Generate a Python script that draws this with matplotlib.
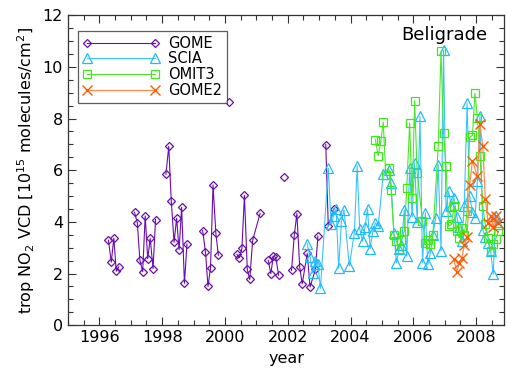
import numpy as np
import matplotlib
matplotlib.use('Agg')
import matplotlib.pyplot as plt

# monthly tropospheric NO2 columns over Belgrade
# nan in the GOME series = gap in the line
nan = np.nan
gome_t = [1996.29, 1996.38, 1996.46, 1996.54, 1996.62, nan,
          1997.12, 1997.21, 1997.29, 1997.38, 1997.46, 1997.54, 1997.62, 1997.71, 1997.79, nan,
          1998.12, 1998.21, 1998.29, 1998.38, 1998.46, 1998.54, 1998.62, 1998.71, 1998.79, nan,
          1999.29, 1999.38, 1999.46, 1999.54, 1999.62, 1999.71, 1999.79, nan,
          2000.14, nan,
          2000.38, 2000.46, 2000.54, 2000.62, 2000.71, 2000.79, 2000.88, 2001.12, nan,
          2001.38, 2001.46, 2001.54, 2001.62, 2001.71, nan,
          2001.88, nan,
          2002.12, 2002.21, 2002.29, 2002.38, 2002.46, 2002.62, 2002.71, 2002.88, 2002.96, nan,
          2003.21, 2003.29, 2003.46]
gome_v = [3.29, 2.44, 3.37, 2.09, 2.26, nan,
          4.37, 3.96, 2.52, 2.07, 4.23, 2.57, 3.36, 2.19, 4.09, nan,
          5.84, 6.92, 4.80, 3.21, 4.14, 2.92, 4.56, 1.62, 3.14, nan,
          3.66, 2.82, 1.50, 2.22, 5.43, 3.55, 2.71, nan,
          8.62, nan,
          2.74, 2.61, 2.97, 5.03, 2.16, 1.77, 3.28, 4.33, nan,
          2.51, 1.99, 2.67, 2.62, 1.93, nan,
          5.72, nan,
          2.12, 3.51, 4.32, 2.25, 1.60, 2.78, 1.48, 2.16, 3.45, nan,
          6.99, 3.83, 4.50]

scia_t = [2002.62, 2002.71, 2002.79, 2002.88, 2002.96, 2003.04, 2003.29, 2003.38, 2003.46,
          2003.54, 2003.62, 2003.71, 2003.79, 2003.96, 2004.12, 2004.21, 2004.29, 2004.38,
          2004.46, 2004.54, 2004.62, 2004.71, 2004.79, 2004.88, 2005.04, 2005.21, 2005.29,
          2005.38, 2005.46, 2005.54, 2005.62, 2005.71, 2005.79, 2005.88, 2005.96, 2006.04,
          2006.12, 2006.21, 2006.29, 2006.38, 2006.46, 2006.54, 2006.62, 2006.71, 2006.79,
          2006.88, 2006.96, 2007.04, 2007.12, 2007.21, 2007.29, 2007.38, 2007.46, 2007.54,
          2007.62, 2007.71, 2007.79, 2007.88, 2007.96, 2008.04, 2008.12, 2008.21, 2008.29,
          2008.38, 2008.46, 2008.54, 2008.62, 2008.71]
scia_v = [3.15, 2.65, 2.03, 2.48, 2.35, 1.43, 6.07, 3.90, 4.24,
          4.50, 2.20, 4.03, 4.47, 2.29, 3.58, 6.17, 3.73, 3.25,
          3.80, 4.50, 2.96, 3.64, 3.96, 3.83, 5.86, 6.02, 5.50,
          3.58, 2.42, 2.93, 3.10, 4.45, 2.67, 6.08, 4.20, 6.27,
          4.00, 8.08, 2.42, 4.35, 2.35, 2.80, 3.50, 4.15, 6.21,
          2.87, 10.65, 4.41, 5.18, 4.60, 4.93, 4.20, 3.80, 3.25,
          4.60, 8.59, 5.00, 4.40, 4.15, 5.60, 8.08, 3.70, 3.40,
          3.20, 2.87, 1.97, 4.22, 3.90]

omi_t = [2004.79, 2004.88, 2004.96, 2005.04, 2005.12, 2005.21, 2005.29, 2005.38, 2005.46,
         2005.54, 2005.62, 2005.71, 2005.79, 2005.88, 2005.96, 2006.04, 2006.12, 2006.29,
         2006.38, 2006.46, 2006.54, 2006.62, 2006.79, 2006.88, 2006.96, 2007.04, 2007.12,
         2007.21, 2007.29, 2007.38, 2007.46, 2007.54, 2007.62, 2007.71, 2007.79, 2007.88,
         2007.96, 2008.04, 2008.12, 2008.21, 2008.29, 2008.38, 2008.46, 2008.54, 2008.62,
         2008.71]
omi_v = [7.18, 6.56, 7.11, 7.86, 5.80, 6.08, 5.25, 3.51, 3.25,
         2.93, 3.30, 3.64, 5.31, 7.82, 4.93, 8.69, 5.89, 4.03,
         3.19, 3.30, 3.16, 3.51, 6.92, 10.62, 7.43, 6.17, 3.83,
         3.90, 4.60, 3.64, 3.38, 3.77, 3.50, 4.41, 7.27, 7.35,
         8.98, 8.01, 6.56, 4.60, 3.90, 3.38, 2.87, 3.13, 3.34,
         3.64]

gome2_t = [2007.29, 2007.38, 2007.46, 2007.54, 2007.62, 2007.71, 2007.79, 2007.88,
           2008.04, 2008.12, 2008.21, 2008.29, 2008.38, 2008.46, 2008.54, 2008.62, 2008.71]
gome2_v = [2.55, 2.06, 2.42, 2.60, 3.09, 3.42, 5.41, 6.37,
           5.76, 7.78, 6.92, 4.90, 3.96, 4.24, 3.79, 4.22, 3.94]

plt.rcParams['font.family'] = ['DejaVu Sans']

fig = plt.figure(figsize=(5.07, 3.79), dpi=100)
ax = fig.add_axes([0.134, 0.142, 0.861, 0.818])

ax.plot(gome_t, gome_v, color='#6a0dad', lw=0.8, marker='D', ms=4.3, mfc='none',
        mec='#6a0dad', mew=0.9, label='GOME')
ax.plot(scia_t, scia_v, color='#3cc3ff', lw=0.8, marker='^', ms=6.5, mfc='none',
        mec='#1ebcff', mew=0.9, label='SCIA')
ax.plot(omi_t, omi_v, color='#4ee62a', lw=0.8, marker='s', ms=6, mfc='none',
        mec='#3ee81a', mew=0.9, label='OMIT3')
ax.plot(gome2_t, gome2_v, color='#ff8a55', lw=0.9, marker='x', ms=6.5, mfc='none',
        mec='#ff5a00', mew=1.0, label='GOME2')

ax.set_xlim(1995, 2008.9)
ax.set_ylim(0, 12)
ax.set_xticks(np.arange(1996, 2009, 2))
ax.set_xticks(np.arange(1995, 2009, 0.5), minor=True)
ax.set_yticks(np.arange(0, 13, 2))
ax.set_yticks(np.arange(0, 12.1, 0.5), minor=True)
ax.tick_params(which='both', direction='in', top=True, right=True, labelsize=11.5,
               color='#333333', width=0.8)
ax.tick_params(which='major', length=6)
ax.tick_params(which='minor', length=3.5)
for s in ax.spines.values():
    s.set_linewidth(0.9)
    s.set_color('#333333')

ax.set_xlabel('year', fontsize=11.5)
ax.set_ylabel('trop NO$_2$ VCD [10$^{15}$ molecules/cm$^2$]', fontsize=11.5)
ax.text(0.96, 0.935, 'Beligrade', transform=ax.transAxes, ha='right', va='center',
        fontsize=13)

leg = ax.legend(loc='upper left', bbox_to_anchor=(0.023, 0.95), numpoints=2,
                handlelength=5.2, fontsize=10.5, labelspacing=0.05, handletextpad=0.6,
                fancybox=False, borderpad=0.35, borderaxespad=0)
leg.get_frame().set_edgecolor('#333333')
leg.get_frame().set_linewidth(0.9)

fig.savefig('out.png', dpi=100)
